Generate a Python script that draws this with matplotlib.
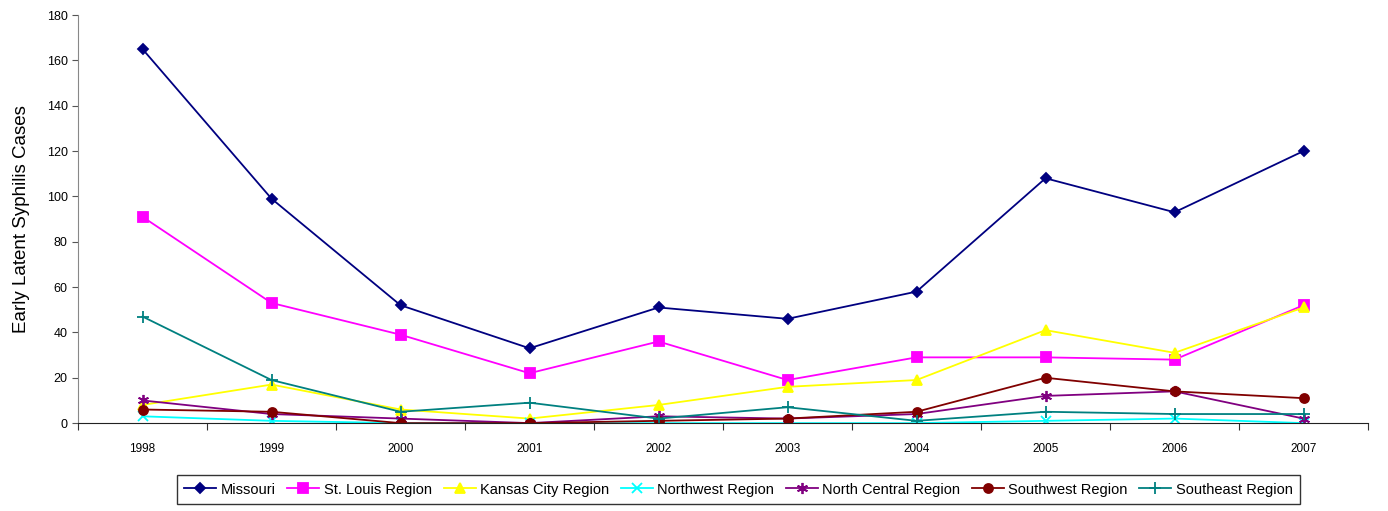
import matplotlib
matplotlib.use("Agg")
import numpy as np
import matplotlib.pyplot as plt

plt.rcParams['font.family'] = ['Liberation Sans', 'DejaVu Sans']

# данные графика
years = ['1998', '1999', '2000', '2001', '2002', '2003', '2004', '2005', '2006', '2007']
missouri = [165, 99, 52, 33, 51, 46, 58, 108, 93, 120]
st_louis = [91, 53, 39, 22, 36, 19, 29, 29, 28, 52]
kansas_city = [8, 17, 6, 2, 8, 16, 19, 41, 31, 51]
northwest = [3, 1, 0, 0, 0, 0, 0, 1, 2, 0]
north_central = [10, 4, 2, 0, 3, 2, 4, 12, 14, 2]
southwest = [6, 5, 0, 0, 1, 2, 5, 20, 14, 11]
southeast = [47, 19, 5, 9, 2, 7, 1, 5, 4, 4]

series = [
    ('Missouri', missouri, '#000080', 'D', 5.5),
    ('St. Louis Region', st_louis, '#FF00FF', 's', 6.5),
    ('Kansas City Region', kansas_city, '#FFFF00', '^', 7),
    ('Northwest Region', northwest, '#00FFFF', 'x', 7),
    ('North Central Region', north_central, '#800080', (6, 2, 0), 8),
    ('Southwest Region', southwest, '#800000', 'o', 6.5),
    ('Southeast Region', southeast, '#008080', '+', 9),
]

fig = plt.figure(figsize=(13.88, 5.11), dpi=100)
fig.subplots_adjust(left=0.0562, right=0.9856, bottom=0.172, top=0.9706)
ax = fig.add_subplot()

x = np.arange(1, len(years) + 1)
for name, vals, col, mk, ms in series:
    ax.plot(x, vals, color=col, lw=1.3, marker=mk, markersize=ms,
            markeredgewidth=1.3, label=name)

ax.set_xlim(0.5, len(years) + 0.5)
ax.set_ylim(0, 180)
ax.set_yticks(range(0, 181, 20))

# деления между категориями, подписи по центру
ax.set_xticks(np.arange(0.5, len(years) + 1, 1.0))
ax.set_xticklabels([])
ax.set_xticks(x, minor=True)
ax.set_xticklabels(years, minor=True)
ax.tick_params(axis='x', which='minor', length=0, pad=14, labelsize=8.5)
ax.tick_params(axis='x', which='major', length=5, color='#333333')
ax.tick_params(axis='y', length=4, labelsize=9, color='#555555')

for s in ['top', 'right']:
    ax.spines[s].set_visible(False)
ax.spines['left'].set_color('#888888')
ax.spines['bottom'].set_color('#222222')

ax.set_ylabel('Early Latent Syphilis Cases', fontsize=13.5, labelpad=12)

leg = ax.legend(loc='upper center', bbox_to_anchor=(0.512, -0.11), ncol=7,
                fontsize=10.5, frameon=True, fancybox=False, edgecolor='black',
                handlelength=2.2, handletextpad=0.3, columnspacing=0.8,
                borderpad=0.5)
leg.get_frame().set_linewidth(1.0)

fig.savefig('out.png', dpi=100)
plt.close(fig)
